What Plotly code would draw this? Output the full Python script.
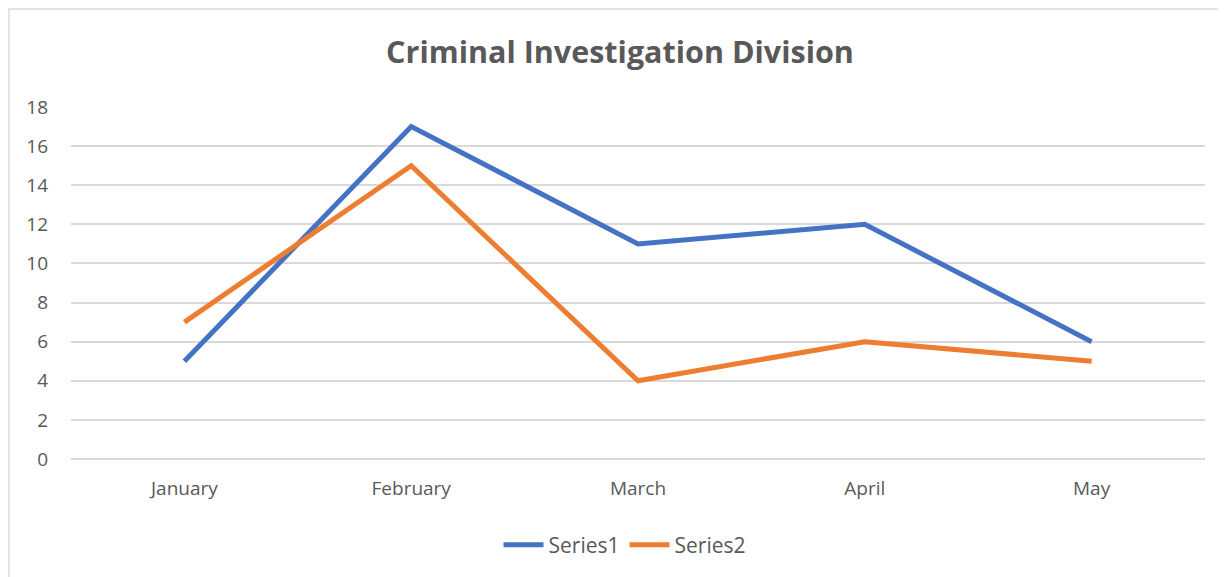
import plotly.graph_objects as go

months = ["January", "February", "March", "April", "May"]
series1 = [5, 17, 11, 12, 6]
series2 = [7, 15, 4, 6, 5]
y_ticks = [0, 2, 4, 6, 8, 10, 12, 14, 16, 18]

FONT = "Open Sans"
GRAY = "#595959"

fig = go.Figure()
fig.add_trace(go.Scatter(x=months, y=series1, name="Series1", mode="lines",
                         line=dict(color="#4472C4", width=5)))
fig.add_trace(go.Scatter(x=months, y=series2, name="Series2", mode="lines",
                         line=dict(color="#ED7D31", width=5)))

fig.update_layout(
    width=1226, height=577,
    margin=dict(l=63, r=29, t=99, b=126),
    paper_bgcolor="white", plot_bgcolor="white",
    font=dict(family=FONT, color=GRAY, size=19),
    title=dict(text="<b>Criminal Investigation Division</b>", x=(620 - 8) / 1226, xanchor="center",
               y=1 - 44 / 577, yanchor="middle", font=dict(size=30.5, color=GRAY, family=FONT)),
    showlegend=True,
    legend=dict(orientation="h", x=(625 - 71) / 1135, xanchor="center", y=(459 - 545) / 352,
                yanchor="middle", font=dict(size=21, color=GRAY), traceorder="normal",
                itemwidth=40),
    xaxis=dict(type="category", range=[-0.5, 4.5], showgrid=False, showline=False,
               zeroline=False, ticks="", ticklabelstandoff=16, tickfont=dict(size=19, color=GRAY)),
    yaxis=dict(range=[0, 18], tickvals=y_ticks, showgrid=True, gridcolor="#D9D9D9", gridwidth=1.5,
               zeroline=True, zerolinecolor="#D9D9D9", zerolinewidth=1.5,
               showline=False, ticks="", ticklabelstandoff=22,
               tickfont=dict(size=19, color=GRAY)),
    shapes=[dict(type="rect", xref="paper", yref="paper",
                 x0=(9 - 71) / 1135, x1=1.2, y0=-0.6, y1=(459 - 9) / 352,
                 line=dict(color="#D9D9D9", width=1.5), layer="below")],
)

fig.write_html("out.html")
